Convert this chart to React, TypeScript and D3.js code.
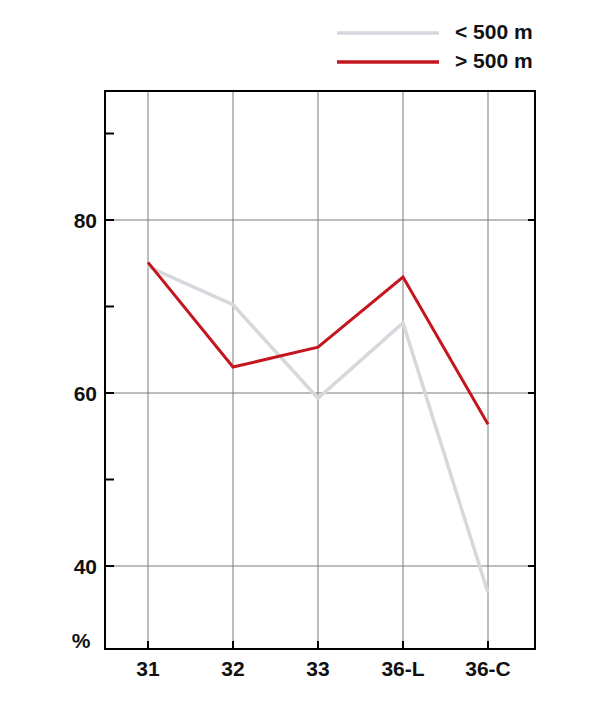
import React from "react";
import * as d3 from "d3";

const categories = ["31", "32", "33", "36-L", "36-C"];
const below500 = [74.6, 70.2, 59.4, 68.1, 36.9];
const above500 = [75.1, 63.0, 65.3, 73.4, 56.4];
const yTicks = [40, 50, 60, 70, 80, 90];
const yLabels = [40, 60, 80];
const seriesNames = ["< 500 m", "> 500 m"];
const seriesColors = ["#d5d8dc", "#c3161e"];

export default function App() {
  const W = 600, H = 702;
  const left = 105, right = 535, top = 91, bottom = 649;
  const x = d3.scalePoint<string>().domain(categories).range([148, 488]);
  const y = d3.scaleLinear().domain([40, 80]).range([566, 220]);
  const line = d3.line<number>().x((_, i) => x(categories[i])!).y((d) => y(d));
  const font = "'Liberation Sans', Arial, Helvetica, sans-serif";
  const series = [below500, above500];
  const fs = 21;
  return (
    <svg width={W} height={H} style={{ position: "absolute", left: 0, top: 0 }} fontFamily={font}>
      <rect width={W} height={H} fill="#fff" />
      {categories.map((c) => (
        <line key={c} x1={x(c)} x2={x(c)} y1={top} y2={bottom} stroke="#7a7a7a" strokeWidth={1} />
      ))}
      {yLabels.map((v) => (
        <line key={v} x1={left} x2={right} y1={y(v)} y2={y(v)} stroke="#7a7a7a" strokeWidth={1} />
      ))}
      {series.map((s, i) => (
        <path key={i} d={line(s)!} fill="none" stroke={seriesColors[i]} strokeWidth={i === 0 ? 3.5 : 3} strokeLinejoin="miter" />
      ))}
      <rect x={left} y={top} width={right - left} height={bottom - top} fill="none" stroke="#000" strokeWidth={2} />
      {yTicks.map((v) => (
        <line key={v} x1={left} x2={left + 9} y1={y(v)} y2={y(v)} stroke="#000" strokeWidth={2} />
      ))}
      {yLabels.map((v) => (
        <line key={"r" + v} x1={right - 7} x2={right} y1={y(v)} y2={y(v)} stroke="#000" strokeWidth={2} />
      ))}
      {yLabels.map((v) => (
        <text key={"l" + v} x={97} y={y(v) + 7.5} textAnchor="end" fontSize={fs} fontWeight="bold" fill="#111">
          {v}
        </text>
      ))}
      <text x={81} y={648} textAnchor="middle" fontSize={fs} fontWeight="bold" fill="#111">%</text>
      {categories.map((c) => (
        <line key={"t" + c} x1={x(c)} x2={x(c)} y1={bottom} y2={bottom - 8} stroke="#000" strokeWidth={2} />
      ))}
      {categories.map((c) => (
        <text key={"x" + c} x={x(c)} y={676} textAnchor="middle" fontSize={fs} fontWeight="bold" fill="#111">
          {c}
        </text>
      ))}
      {seriesNames.map((n, i) => (
        <g key={n}>
          <line x1={337} x2={439} y1={33 + i * 29} y2={33 + i * 29} stroke={seriesColors[i]} strokeWidth={3.5} />
          <text x={455} y={38.5 + i * 29} fontSize={fs} fontWeight="bold" fill="#111">{n}</text>
        </g>
      ))}
    </svg>
  );
}
